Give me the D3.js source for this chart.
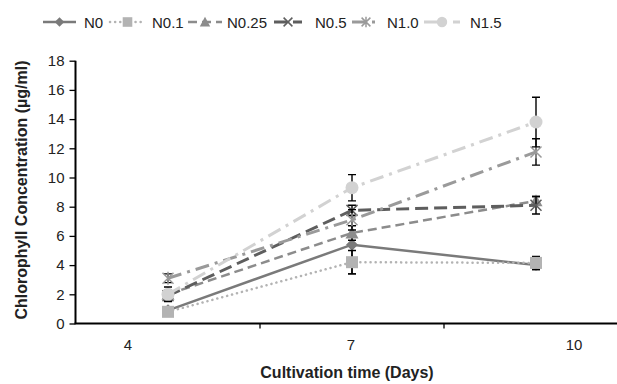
<!DOCTYPE html>
<html>
<head>
<meta charset="utf-8">
<script src="https://cdn.jsdelivr.net/npm/d3@7"></script>
<style>
  html, body { margin: 0; padding: 0; background: #fff; }
  svg { display: block; font-family: "Liberation Sans", Arial, sans-serif; }
</style>
</head>
<body>
<svg id="chart" width="617" height="384"></svg>
<script>
// Cultivation days (category axis)
const days = ["4", "7", "10"];
const yTicks = [0, 2, 4, 6, 8, 10, 12, 14, 16, 18];

// Chlorophyll concentration (µg/ml) per nitrate level, with standard deviation
const seriesNames = ["N0", "N0.1", "N0.25", "N0.5", "N1.0", "N1.5"];
const n0     = [0.9, 5.4, 4.0];
const n01    = [0.8, 4.2, 4.15];
const n025   = [2.0, 6.2, 8.4];
const n05    = [1.9, 7.75, 8.1];
const n10    = [3.1, 7.1, 11.75];
const n15    = [2.0, 9.3, 13.8];
const n0Err   = [0.2, 2.0, 0.3];
const n01Err  = [0.2, 0.8, 0.45];
const n025Err = [0.3, 0.5, 0.3];
const n05Err  = [0.3, 0.35, 0.6];
const n10Err  = [0.3, 0.7, 0.9];
const n15Err  = [0.5, 0.9, 1.7];

const values = [n0, n01, n025, n05, n10, n15];
const errors = [n0Err, n01Err, n025Err, n05Err, n10Err, n15Err];

const styles = [
  { color: "#7a7a7a", dash: null,          width: 2.5, cap: "butt",  marker: "diamond" },
  { color: "#b3b3b3", dash: "0.1 5",       width: 2.5, cap: "round", marker: "square" },
  { color: "#8c8c8c", dash: "9 5",         width: 2.5, cap: "butt",  marker: "triangle" },
  { color: "#5e5e5e", dash: "13 6",        width: 3,   cap: "butt",  marker: "x" },
  { color: "#9a9a9a", dash: "14 6 3 6",    width: 3,   cap: "butt",  marker: "asterisk" },
  { color: "#d2d2d2", dash: "14 6 3 6",    width: 3,   cap: "butt",  marker: "circle" }
];

const series = seriesNames.map((name, i) => ({
  name, style: styles[i],
  points: days.map((d, j) => ({ day: d, v: values[i][j], e: errors[i][j] }))
}));

const svg = d3.select("#chart");

const x = d3.scaleBand().domain(days).range([76, 628]).paddingInner(0).paddingOuter(0);
const xLabel = d3.scalePoint().domain(days).range([128, 574]);
const y = d3.scaleLinear().domain([0, 18]).range([323.5, 60.7]);
const cx = d => x(d) + x.bandwidth() / 2;

// Axes
const yAxis = svg.append("g").attr("transform", "translate(75.5,0)")
  .call(d3.axisLeft(y).tickValues(yTicks).tickSize(6).tickPadding(5));
yAxis.select(".domain").attr("stroke", "#000").attr("stroke-width", 2).attr("d", `M0,${y(18)}V${y(0)}`);
yAxis.selectAll(".tick line").attr("stroke", "#000").attr("stroke-width", 1.3);
yAxis.selectAll(".tick text").attr("font-size", 15).attr("fill", "#222")
  .attr("font-family", "Liberation Sans, Arial, sans-serif");

const xAxisG = svg.append("g").attr("transform", `translate(0,${y(0)})`);
xAxisG.append("line").attr("x1", 74.5).attr("x2", 617).attr("y1", 0).attr("y2", 0)
  .attr("stroke", "#000").attr("stroke-width", 2);
xAxisG.selectAll("line.tk").data(days.slice(1)).join("line").attr("class", "tk")
  .attr("x1", d => x(d)).attr("x2", d => x(d)).attr("y1", 0).attr("y2", 5)
  .attr("stroke", "#000").attr("stroke-width", 1.3);
xAxisG.selectAll("text").data(days).join("text")
  .attr("x", d => xLabel(d)).attr("y", 26).attr("text-anchor", "middle")
  .attr("font-size", 15).attr("fill", "#222").text(d => d);

// Axis titles
svg.append("text").attr("x", 347).attr("y", 378).attr("text-anchor", "middle")
  .attr("font-size", 16).attr("font-weight", "bold").attr("fill", "#222")
  .text("Cultivation time (Days)");
svg.append("text").attr("transform", "translate(27,190) rotate(-90)").attr("text-anchor", "middle")
  .attr("font-size", 16).attr("font-weight", "bold").attr("fill", "#222")
  .text("Chlorophyll Concentration (µg/ml)");

// Marker drawing; k scales the glyph size
function drawMarker(g, type, color, px, py, k = 1) {
  const s = 6 * k;
  if (type === "diamond") {
    g.append("path").attr("d", `M${px},${py - s}L${px + s},${py}L${px},${py + s}L${px - s},${py}Z`).attr("fill", color);
  } else if (type === "square") {
    g.append("rect").attr("x", px - s).attr("y", py - s).attr("width", 2 * s).attr("height", 2 * s).attr("fill", color);
  } else if (type === "triangle") {
    g.append("path").attr("d", `M${px},${py - 6.5 * k}L${px + 6.5 * k},${py + 5.5 * k}L${px - 6.5 * k},${py + 5.5 * k}Z`).attr("fill", color);
  } else if (type === "circle") {
    g.append("circle").attr("cx", px).attr("cy", py).attr("r", 6.5 * k).attr("fill", color);
  } else if (type === "x") {
    const a = 5.5 * k;
    g.append("path").attr("d", `M${px - a},${py - a}L${px + a},${py + a}M${px + a},${py - a}L${px - a},${py + a}`)
      .attr("stroke", color).attr("stroke-width", 1.5).attr("fill", "none");
  } else if (type === "asterisk") {
    const a = 5.5 * k, b = 6.5 * k;
    g.append("path").attr("d", `M${px - a},${py - a}L${px + a},${py + a}M${px + a},${py - a}L${px - a},${py + a}M${px},${py - b}L${px},${py + b}`)
      .attr("stroke", color).attr("stroke-width", 1.5).attr("fill", "none");
  }
}

const line = d3.line().x(d => cx(d.day)).y(d => y(d.v));
const plot = svg.append("g");

series.forEach(s => {
  const g = plot.append("g");
  g.append("path").datum(s.points).attr("d", line).attr("fill", "none")
    .attr("stroke", s.style.color).attr("stroke-width", s.style.width)
    .attr("stroke-dasharray", s.style.dash).attr("stroke-linecap", s.style.cap);
  // error bars
  s.points.forEach(p => {
    const px = cx(p.day);
    g.append("path")
      .attr("d", `M${px},${y(p.v - p.e)}V${y(p.v + p.e)}M${px - 4},${y(p.v + p.e)}H${px + 4}M${px - 4},${y(p.v - p.e)}H${px + 4}`)
      .attr("stroke", "#000").attr("stroke-width", 1.4).attr("fill", "none");
  });
  s.points.forEach(p => drawMarker(g, s.style.marker, s.style.color, cx(p.day), y(p.v)));
});

// Legend
const legendX = [43, 110, 188, 274, 352, 424];
const legendW = [33, 35, 34, 28, 28, 36];
const legendTextX = [84, 152, 227, 315, 387, 470];
const legend = svg.append("g");
series.forEach((s, i) => {
  const g = legend.append("g");
  const x0 = legendX[i], x1 = legendX[i] + legendW[i], ly = 22;
  g.append("line").attr("x1", x0).attr("x2", x1).attr("y1", ly).attr("y2", ly)
    .attr("stroke", s.style.color).attr("stroke-width", s.style.width)
    .attr("stroke-dasharray", s.style.dash).attr("stroke-linecap", s.style.cap);
  drawMarker(g, s.style.marker, s.style.color, (x0 + x1) / 2, ly, 0.8);
  g.append("text").attr("x", legendTextX[i]).attr("y", ly + 5.5).attr("font-size", 15).attr("fill", "#222").text(s.name);
});
</script>
</body>
</html>
